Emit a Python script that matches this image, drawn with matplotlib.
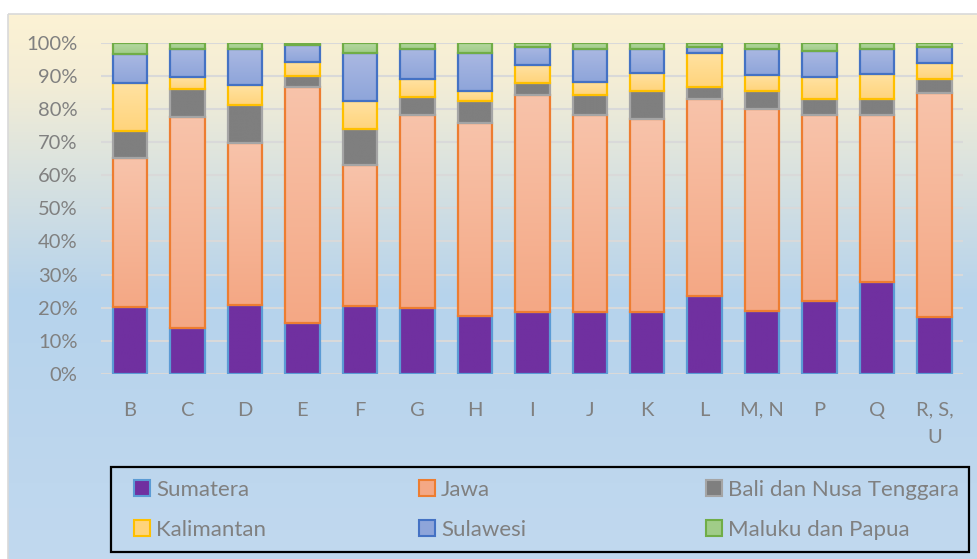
import numpy as np
import matplotlib
matplotlib.use("Agg")
import matplotlib.pyplot as plt
from matplotlib.patches import Rectangle
from matplotlib.colors import LinearSegmentedColormap

plt.rcParams['font.family'] = ['Lato', 'DejaVu Sans']

categories = ['B', 'C', 'D', 'E', 'F', 'G', 'H', 'I', 'J', 'K', 'L', 'M, N', 'P', 'Q', 'R, S,\nU']
sumatera = [20.3, 14.0, 20.9, 15.5, 20.5, 19.8, 17.4, 18.6, 18.6, 18.6, 23.4, 19.1, 22.1, 27.7, 17.3]
jawa     = [44.9, 63.5, 48.7, 71.2, 42.6, 58.3, 58.3, 65.5, 59.5, 58.3, 59.5, 60.8, 56.1, 50.5, 67.4]
bali     = [8.2, 8.5, 11.6, 3.3, 10.8, 5.6, 6.7, 3.6, 6.0, 8.5, 3.6, 5.4, 4.8, 4.8, 4.3]
kalimantan = [14.5, 3.6, 6.0, 4.3, 8.5, 5.3, 2.9, 5.6, 4.1, 5.5, 10.3, 5.0, 6.6, 7.7, 4.9]
sulawesi = [8.7, 8.5, 10.8, 5.0, 14.4, 9.1, 11.5, 5.5, 9.9, 7.2, 1.8, 7.8, 8.0, 7.4, 4.9]
maluku   = [3.4, 1.9, 2.0, 0.7, 3.2, 1.9, 3.2, 1.2, 1.9, 1.9, 1.4, 1.9, 2.4, 1.9, 1.2]

series_names = ['Sumatera', 'Jawa', 'Bali dan Nusa Tenggara', 'Kalimantan', 'Sulawesi', 'Maluku dan Papua']
series_vals = [sumatera, jawa, bali, kalimantan, sulawesi, maluku]
# (top colour, bottom colour, edge colour)
styles = [
    ('#7030A0', '#7030A0', '#5B9BD5'),
    ('#F8C3AA', '#F4A885', '#ED7D31'),
    ('#7F7F7F', '#7F7F7F', '#A5A5A5'),
    ('#FFE2A2', '#FFD47C', '#FFC000'),
    ('#AAB8E2', '#8EA5DA', '#4472C4'),
    ('#B6D9A3', '#A0CC88', '#70AD47'),
]
text_color = '#808080'

W, H = 978, 559
fig = plt.figure(figsize=(W / 100, H / 100), dpi=100)
fig.patch.set_facecolor('white')

# chart-area background gradient
bg = fig.add_axes([0, 0, 1, 1], zorder=-10)
bg.set_xlim(0, W)
bg.set_ylim(H, 0)
bg.axis('off')
bg_cmap = LinearSegmentedColormap.from_list(
    'bg', [(0.0, '#FCF2D4'), (0.12, '#F3EDD6'), (0.5, '#B6D3EC'), (1.0, '#C2D9EF')])
grad = np.linspace(0, 1, 400)[:, None]
bg.imshow(grad, extent=[8, W + 20, H + 20, 14], aspect='auto', cmap=bg_cmap, interpolation='bilinear')
bg.add_patch(Rectangle((8, 14), W, H, fill=False, ec='#D9D9D9', lw=1.2))
# legend frame
bg.add_patch(Rectangle((111, 467), 858, 85, fill=False, ec='black', lw=1.6))

ax = fig.add_axes([101.3 / W, 1 - 374 / H, 862 / W, (374 - 42.7) / H])
ax.patch.set_alpha(0)

vals = np.array(series_vals, dtype=float)
vals = vals / vals.sum(axis=0) * 100.0
x = np.arange(len(categories))
bottom = np.zeros(len(categories))
for i, (name, v, (ctop, cbot, ec)) in enumerate(zip(series_names, vals, styles)):
    frac = v / 100.0
    bars = ax.bar(x, frac, bottom=bottom, width=0.6, facecolor='none', edgecolor=ec,
                  linewidth=1.6, zorder=3 + 2 * i)
    cmap = LinearSegmentedColormap.from_list('s%d' % i, [cbot, ctop])
    for b in bars:
        x0, y0 = b.get_x(), b.get_y()
        w, h = b.get_width(), b.get_height()
        im = ax.imshow(np.linspace(1, 0, 50)[:, None], extent=[x0, x0 + w, y0, y0 + h],
                       aspect='auto', cmap=cmap, vmin=0, vmax=1, zorder=2 + 2 * i,
                       interpolation='bilinear')
        im.set_clip_path(b)
    bottom += frac

ax.set_xlim(-0.5, len(categories) - 0.5)
ax.set_ylim(0, 1)
ax.set_yticks(np.arange(0, 1.01, 0.1))
ax.set_yticklabels(['%d%%' % round(t * 100) for t in np.arange(0, 1.01, 0.1)])
ax.set_xticks(x)
ax.set_xticklabels(categories)
ax.xaxis.get_ticklabels()[-1].set_linespacing(1.75)
ax.grid(axis='y', color='#D9D9D9', linewidth=1.5, zorder=0)
ax.set_axisbelow(True)
for s in ax.spines.values():
    s.set_visible(False)
ax.tick_params(axis='both', length=0, labelsize=14.5, colors=text_color)
ax.tick_params(axis='y', pad=17)
ax.tick_params(axis='x', pad=20)

# legend: three columns, two rows (row-wise order as in the original)
handles = [Rectangle((0, 0), 1, 1, facecolor=st[1], edgecolor=st[2], linewidth=1.5) for st in styles]
col_x = [134, 419, 706]
for c in range(3):
    idx = [c, c + 3]
    lg = fig.legend([handles[i] for i in idx], [series_names[i] for i in idx],
                    loc='upper left', bbox_to_anchor=(col_x[c] / W, 1 - 480 / H),
                    frameon=False, fontsize=16, labelcolor=text_color,
                    handlelength=0.7, handleheight=0.7, handletextpad=0.3,
                    borderpad=0, labelspacing=0.9, borderaxespad=0)

fig.savefig('out.png', dpi=100, facecolor=fig.get_facecolor())
